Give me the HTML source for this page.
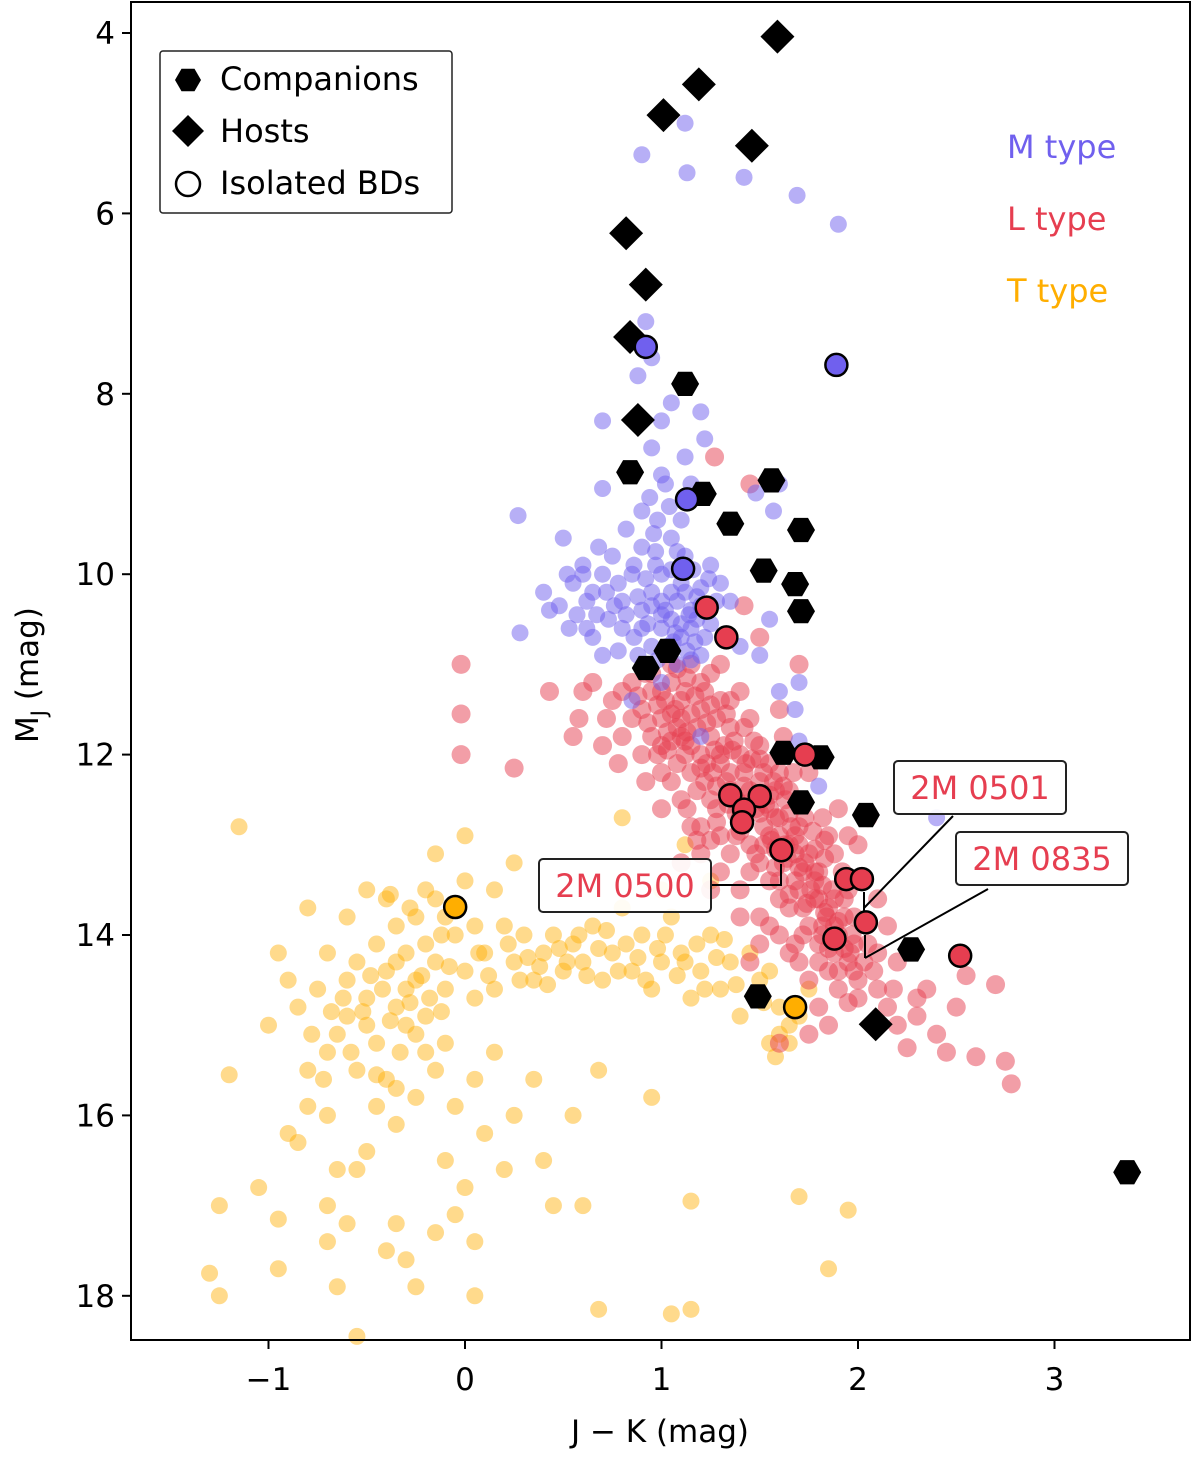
<!DOCTYPE html>
<html><head><meta charset="utf-8"><style>
body{margin:0;background:#fff;}
svg text{font-family:"DejaVu Sans","Liberation Sans",sans-serif;}
</style></head><body>
<svg id="chart" width="1200" height="1454" xmlns="http://www.w3.org/2000/svg">
<g id="scatter"></g>
<g id="marks"></g>
<g id="axes"></g>
</svg>
<script>
const xTicks=[-1,0,1,2,3];
const yTicks=[4,6,8,10,12,14,16,18];
const mPts=[1.12,5.0,0.9,5.35,1.13,5.55,1.42,5.6,1.69,5.8,1.9,6.12,0.95,7.6,0.88,7.8,1.05,8.1,1.2,8.2,0.7,8.3,0.95,8.6,1.0,8.9,0.7,9.05,1.02,9.0,1.48,9.1,1.57,9.3,0.27,9.35,0.5,9.6,0.68,9.7,0.75,9.8,0.6,9.9,0.78,10.1,0.55,10.1,0.85,10.0,0.95,10.2,0.43,10.4,0.62,10.3,0.73,10.5,0.53,10.6,0.28,10.65,0.65,10.7,0.8,10.6,0.7,10.9,1.0,10.6,0.9,10.4,1.05,10.2,1.15,10.4,1.1,10.7,1.2,10.9,1.0,11.2,0.85,11.4,1.35,10.3,1.5,10.9,1.6,11.3,1.68,11.5,1.7,11.2,1.2,11.8,0.9,9.7,1.05,9.6,1.1,9.4,0.98,9.4,0.9,9.3,1.0,10.0,1.1,10.1,1.15,10.6,1.05,10.5,0.95,10.8,1.3,10.1,1.25,10.55,1.4,10.8,1.55,10.5,1.7,11.85,1.8,12.35,2.4,12.7,1.25,9.9,0.97,9.9,0.88,10.9,0.6,10.0,0.4,10.2,0.72,10.2,0.82,9.5,1.22,8.5,1.12,8.7,0.92,7.2,1.0,8.3,1.15,9.0,1.6,9.0,1.08,10.3,1.12,10.2,1.18,10.5,1.02,10.4,0.93,10.55,1.12,9.8,0.8,10.3,0.67,10.45,
0.94,9.15,1.04,9.25,0.96,9.55,1.08,9.75,1.16,9.95,1.2,10.15,1.05,9.95,0.92,10.05,0.88,10.25,1.0,10.3,1.07,10.65,1.13,10.85,1.22,10.7,1.03,10.8,0.86,10.7,0.78,10.85,0.7,10.0,0.65,10.2,0.57,10.45,0.82,10.45,0.98,10.95,1.28,10.3,1.18,10.25,1.24,10.05,0.97,9.75,0.86,9.9,0.76,10.35,0.62,10.6,0.48,10.35,0.52,10.0,
1.14,10.45,1.1,10.55,1.17,10.75,1.2,10.35,1.06,10.75,1.0,10.45,0.95,10.35,0.9,10.6,1.15,10.95,1.08,11.0];
const lPts=[-0.02,11.0,-0.02,11.55,-0.02,12.0,0.25,12.15,0.43,11.3,0.58,11.6,0.72,11.6,0.6,11.3,0.55,11.8,1.27,8.7,1.45,9.0,1.42,10.35,1.5,10.7,1.7,11.0,1.6,11.5,2.7,14.55,2.78,15.65,2.75,15.4,2.6,15.35,2.45,15.3,2.4,15.1,2.3,14.9,2.25,15.25,2.2,15.0,2.15,14.8,2.35,14.6,2.5,14.8,2.55,14.45,2.1,14.6,2.0,14.7,1.9,14.4,1.8,14.8,1.75,15.1,1.6,15.2,1.3,12.0,1.25,13.5,1.1,13.2,1.15,12.8,1.4,13.5,1.5,13.8,1.6,14.0,1.45,14.3,
0.85,11.2,0.9,11.5,0.95,11.3,1.0,11.6,1.05,11.2,1.1,11.4,1.15,11.0,0.9,12.0,1.0,11.9,1.1,11.8,1.2,11.5,1.25,11.1,1.3,11.4,1.35,11.7,1.15,12.2,1.05,12.3,1.2,12.0,1.3,12.1,1.4,12.0,1.45,11.6,1.5,11.9,1.25,12.5,1.35,12.4,1.4,12.7,1.5,12.3,1.55,12.6,1.6,12.9,1.45,13.0,1.5,13.2,1.65,12.4,1.7,12.8,1.75,13.1,1.6,13.4,1.7,13.5,1.8,13.3,1.85,13.7,1.75,13.9,1.9,14.0,1.95,13.5,1.65,13.7,1.8,14.1,1.95,14.3,2.05,14.1,1.85,12.9,1.9,12.6,2.0,13.0,1.55,13.9,1.7,14.3,1.0,12.6,1.1,12.5,1.2,12.8,1.3,12.9,0.95,11.8,1.05,11.0,1.1,11.6,1.15,11.9,1.25,11.8,1.35,12.2,1.45,12.4,1.55,12.1,1.6,12.2,1.4,11.3,1.3,11.0,0.8,11.3,0.8,11.8,0.92,12.3,1.65,13.0,1.8,13.6,1.85,14.4,2.1,13.6,2.15,13.9,2.2,14.3,1.75,12.2,2.05,12.7,1.95,12.9,1.6,12.7,1.52,12.8,1.38,12.9,1.72,13.3,1.88,13.1,1.98,13.8,1.62,11.8,1.0,12.2,1.22,12.3,1.12,11.3,1.18,11.7,
0.95,11.1,1.02,11.4,1.08,11.7,1.12,12.0,1.18,12.4,1.28,12.6,1.32,11.9,1.38,12.5,1.42,12.2,1.48,12.6,1.52,13.0,1.58,12.4,1.62,13.2,1.68,13.1,1.72,13.7,1.78,13.4,1.82,13.9,1.88,14.2,1.92,13.3,1.98,14.1,2.02,13.4,2.08,14.4,1.22,11.3,1.28,11.6,1.08,12.1,0.98,12.0,1.5,12.05,1.55,12.45,1.65,12.65,1.7,13.0,1.78,13.05,1.82,13.45,1.6,13.6,1.68,14.1,1.75,14.5,1.82,12.7,
0.88,11.35,0.93,11.65,0.98,11.45,1.03,11.75,1.07,11.5,1.13,11.15,1.17,11.35,1.23,11.65,1.27,11.95,1.33,11.55,1.37,11.85,1.43,12.1,1.47,11.85,1.52,12.2,1.57,12.3,1.63,12.5,1.67,12.2,1.72,12.55,1.77,12.85,1.83,13.15,1.87,13.5,1.93,13.8,1.97,14.0,2.03,14.3,1.13,12.6,1.23,12.1,1.33,12.3,1.43,12.55,1.53,12.55,1.63,13.0,1.73,13.2,1.83,13.75,1.93,14.15,1.03,11.95,1.13,11.75,1.28,12.35,1.38,12.65,1.48,13.1,1.58,13.25,1.68,13.4,1.78,13.6,1.88,13.9,1.98,14.4,1.18,12.95,1.28,12.75,1.58,12.7,1.68,12.9,1.78,13.3,1.88,13.6,1.65,14.2,1.72,14.0,1.8,14.3,1.9,14.6,2.0,14.5,1.55,13.4,1.45,13.3,1.35,13.1,1.25,12.95,0.92,11.1,1.0,11.3,1.08,11.05,1.2,11.2,1.35,11.4,1.15,11.55,1.25,11.45,1.05,11.85,0.85,11.6,0.75,11.4,0.7,11.9,0.65,11.2,0.78,12.1,1.4,12.85,1.62,12.35,1.73,12.7,1.83,12.95,1.93,13.6,2.1,14.2,2.18,14.6,1.95,14.75,1.85,15.0,2.3,14.7,1.5,14.1,1.4,13.8,1.3,13.3,1.2,13.1,1.55,12.9,1.65,13.55,1.85,14.15,
1.05,11.55,1.12,11.85,1.2,12.15,1.26,12.2,1.34,12.55,1.42,12.35,1.5,12.65,1.56,12.95,1.64,13.15,1.7,13.25,1.76,13.5,1.84,13.8,1.9,13.85,1.96,14.2,1.42,11.7,1.36,11.95,1.46,12.05,1.58,13.05,1.66,12.8,1.74,13.65,1.82,14.0];
const tPts=[-1.15,12.8,-1.2,15.55,-1.25,17.0,-1.3,17.75,-1.05,16.8,-0.95,17.7,-1.25,18.0,-0.95,17.15,-0.85,16.3,-0.8,15.5,-0.7,15.3,-0.65,16.6,-0.7,17.0,-0.7,17.4,-0.65,17.9,-0.6,17.2,-0.55,16.6,-0.5,16.4,-0.4,17.5,-0.35,17.2,-0.3,17.6,-0.25,17.9,-0.15,17.3,-0.1,16.5,-0.05,17.1,0.0,16.8,0.05,17.4,0.05,18.0,0.1,16.2,0.2,16.6,0.25,16.0,0.4,16.5,0.45,17.0,0.6,17.0,0.68,18.15,1.05,18.2,1.15,18.15,1.15,16.95,0.95,15.8,0.68,15.5,0.55,16.0,0.35,15.6,-0.55,18.45,-0.55,15.5,-0.45,15.9,-0.35,16.1,-0.25,15.8,-0.15,15.5,-0.05,15.9,0.05,15.6,0.15,15.3,-1.0,15.0,-0.9,14.5,-0.85,14.8,-0.75,14.6,-0.7,14.2,-0.6,14.9,-0.6,14.5,-0.55,14.3,-0.5,14.7,-0.45,14.1,-0.45,15.2,-0.4,14.4,-0.4,13.6,-0.35,14.8,-0.35,13.9,-0.3,14.2,-0.3,15.0,-0.25,14.5,-0.25,13.8,-0.2,14.1,-0.2,14.9,-0.15,14.3,-0.15,13.6,-0.1,14.6,-0.1,15.2,-0.05,14.0,0.0,14.4,0.0,13.4,0.05,14.7,0.05,13.9,0.1,14.2,0.15,13.5,0.15,14.6,0.2,13.9,0.25,13.2,0.25,14.3,0.3,14.0,0.35,14.5,0.4,14.2,0.45,14.0,0.5,14.4,0.55,14.1,0.6,14.3,0.65,13.9,0.7,14.5,0.75,14.2,0.8,13.7,0.85,14.4,0.9,14.0,0.95,14.6,1.0,14.3,1.05,13.8,1.1,14.2,1.15,14.7,1.2,14.4,1.25,14.0,1.3,14.6,1.35,14.3,1.4,14.9,1.5,14.5,1.6,14.8,1.55,15.2,1.65,15.0,1.75,14.6,1.25,13.4,1.0,13.5,0.8,12.7,1.12,13.0,1.7,16.9,1.95,17.05,1.85,17.7,-0.5,13.5,-0.6,13.8,-0.8,13.7,-0.95,14.2,-0.15,13.1,0.0,12.9,-0.8,15.9,-0.9,16.2,-0.7,16.0,-0.4,15.6,-0.3,14.6,-0.2,15.3,-0.5,15.0,-0.65,15.1,-0.1,13.8,-0.35,14.3,
-0.42,14.6,-0.38,14.95,-0.33,15.3,-0.28,14.75,-0.22,14.45,-0.18,14.7,-0.12,14.0,-0.08,14.35,-0.48,14.45,-0.52,14.85,-0.58,15.3,-0.62,14.7,-0.68,14.85,-0.72,15.6,-0.78,15.1,-0.45,15.55,-0.35,15.7,-0.25,15.1,-0.12,14.85,-0.28,13.7,-0.38,13.55,-0.2,13.5,0.07,14.2,0.12,14.45,0.22,14.1,0.28,14.5,0.32,14.25,0.38,14.35,0.42,14.55,0.48,14.15,0.52,14.3,0.58,14.0,0.62,14.45,0.68,14.15,0.72,13.95,0.78,14.4,0.82,14.1,0.88,14.25,0.92,14.5,0.98,14.15,1.02,14.0,1.08,14.45,1.12,14.3,1.18,14.1,1.22,14.6,1.28,14.25,1.32,14.05,1.38,14.55,1.45,14.2,1.55,14.4,1.6,15.1,1.7,14.9,1.52,14.75,1.58,15.35,1.65,15.2];
const hostX=[1.59,1.19,1.01,1.46,0.82,0.92,0.84,0.88,2.09];
const hostY=[4.04,4.57,4.91,5.25,6.22,6.79,7.37,8.29,14.99];
const compX=[1.12,0.84,1.21,1.56,1.35,1.71,1.52,1.68,1.71,1.03,0.92,1.62,1.81,1.71,2.04,2.27,1.49,3.37];
const compY=[7.89,8.87,9.11,8.96,9.44,9.51,9.96,10.11,10.41,10.85,11.04,11.98,12.03,12.53,12.67,14.16,14.68,16.63];
const bdX=[0.92,1.89,1.13,1.11,1.23,1.33,1.73,1.35,1.50,1.42,1.41,1.61,1.94,2.02,2.04,1.88,2.52,-0.05,1.68];
const bdY=[7.48,7.68,9.17,9.94,10.37,10.70,12.0,12.45,12.46,12.61,12.75,13.06,13.38,13.38,13.86,14.04,14.23,13.69,14.80];
const bdType=['M','M','M','M','L','L','L','L','L','L','L','L','L','L','L','L','L','T','T'];

const NS='http://www.w3.org/2000/svg';
const L=131,R=1190,T=2,B=1340;
const sx=v=>465+v*196.5, sy=v=>33+(v-4)*90.2;
const col={M:'#7060ee',L:'#e63e50',T:'#ffae00'};
function mk(tag,at,parent){const e=document.createElementNS(NS,tag);for(const k in at)e.setAttribute(k,at[k]);parent.appendChild(e);return e;}
const sc=document.getElementById('scatter'),mg=document.getElementById('marks'),ax=document.getElementById('axes');
function scat(arr,c,nm,r,op){for(let i=0;i<arr.length;i+=2){const e=mk('circle',{cx:sx(arr[i]),cy:sy(arr[i+1]),r:r,fill:c,'fill-opacity':op},sc);

}}
scat(tPts,col.T,'t-type-point',8.5,0.45);scat(lPts,col.L,'l-type-point',9.5,0.5);scat(mPts,col.M,'m-type-point',8.5,0.5);
const lines=[[711,885,781,885,781,864],[953,816,864,908],[864,892,864,920],[988,889,865,958],[865,935,865,958]];
lines.forEach(p=>{const e=mk('polyline',{points:p.join(' '),fill:'none',stroke:'#000','stroke-width':2},mg);

});
function hexPts(cx,cy,r){let s=[];for(let k=0;k<6;k++){const a=Math.PI/3*k;s.push((cx+r*Math.cos(a)).toFixed(1)+','+(cy+r*Math.sin(a)).toFixed(1));}return s.join(' ');}
compX.forEach((v,i)=>{const e=mk('polygon',{points:hexPts(sx(v),sy(compY[i]),14),fill:'#000'},mg);

});
hostX.forEach((v,i)=>{const x=sx(v),y=sy(hostY[i]);const e=mk('polygon',{points:`${x},${y-17} ${x+17},${y} ${x},${y+17} ${x-17},${y}`,fill:'#000'},mg);

});
bdX.forEach((v,i)=>{const e=mk('circle',{cx:sx(v),cy:sy(bdY[i]),r:11,fill:col[bdType[i]],stroke:'#000','stroke-width':2.5},mg);

});
[['2M 0500',539,859],['2M 0501',894,761],['2M 0835',956,832]].forEach(a=>{const g=mk('g',{},mg);


mk('rect',{x:a[1],y:a[2],width:172,height:53,rx:4,fill:'#fff','fill-opacity':0.9,stroke:'#222','stroke-width':2},g);
const t=mk('text',{x:a[1]+86,y:a[2]+38,'text-anchor':'middle','font-size':32,fill:col.L},g);t.textContent=a[0];});
const fr=mk('rect',{x:L,y:T,width:R-L,height:B-T,fill:'none',stroke:'#000','stroke-width':2},ax);


xTicks.forEach(v=>{const x=sx(v);mk('line',{x1:x,x2:x,y1:B,y2:B+9,stroke:'#000','stroke-width':2},ax);
const t=mk('text',{x:x,y:B+50,'text-anchor':'middle','font-size':31},ax);t.textContent=(v<0?'\u2212'+(-v):v);

});
yTicks.forEach(v=>{const y=sy(v);mk('line',{x1:L-9,x2:L,y1:y,y2:y,stroke:'#000','stroke-width':2},ax);
const t=mk('text',{x:L-16,y:y+11,'text-anchor':'end','font-size':31},ax);t.textContent=v;

});
const xt=mk('text',{x:660,y:1442,'text-anchor':'middle','font-size':31},ax);xt.textContent='J \u2212 K (mag)';


const yt=mk('text',{transform:'translate(38,675) rotate(-90)','text-anchor':'middle','font-size':31},ax);
yt.innerHTML='M<tspan font-size="21" dy="8">J</tspan><tspan dy="-8"> (mag)</tspan>';


const lg=mk('g',{},ax);


mk('rect',{x:160,y:51,width:292,height:162,rx:3,fill:'#fff',stroke:'#222','stroke-width':1.5},lg);
mk('polygon',{points:hexPts(188,80,13),fill:'#000'},lg);
mk('polygon',{points:'188,115 204,131 188,147 172,131',fill:'#000'},lg);
mk('circle',{cx:188,cy:184,r:12,fill:'none',stroke:'#000','stroke-width':2.5},lg);
[['Companions',90],['Hosts',142],['Isolated BDs',194]].forEach(a=>{const t=mk('text',{x:220,y:a[1],'font-size':32},lg);t.textContent=a[0];

});
[['M type',col.M,158],['L type',col.L,230],['T type',col.T,302]].forEach(a=>{const t=mk('text',{x:1007,y:a[2],'font-size':32,fill:a[1]},ax);t.textContent=a[0];

});
</script>
</body></html>
